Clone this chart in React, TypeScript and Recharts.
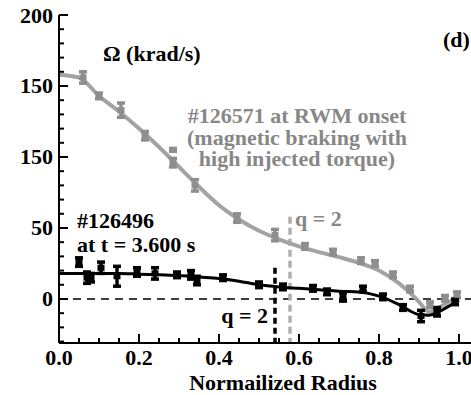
import { ComposedChart, Line, Scatter, ErrorBar, XAxis, YAxis, ReferenceLine } from 'recharts';

// smooth fit curves
const radiusFit = [0, 0.05, 0.1, 0.15, 0.2, 0.25, 0.3, 0.35, 0.4, 0.45, 0.5, 0.55, 0.6, 0.65, 0.7, 0.75, 0.8, 0.85, 0.875, 0.9, 0.925, 0.95, 0.975, 1.0];
const omegaFitRwm = [158, 156, 143, 132, 120, 107, 93, 79, 66, 56, 48, 42, 37, 33, 29.5, 25.5, 20, 11, 5, -2, -9, -6, -2, 1];
const omegaFit126496 = [18, 18, 18, 18, 17.5, 17, 16.5, 15.5, 14.5, 12.5, 10, 8.5, 7.5, 6.5, 5.5, 5, 2, -4, -8, -11, -11.5, -9, -5, -1];

// measured points (gray: #126571, black: #126496)
const rwmRadius = [0.06, 0.1, 0.155, 0.215, 0.285, 0.285, 0.34, 0.445, 0.54, 0.615, 0.685, 0.755, 0.79, 0.835, 0.8775, 0.9275, 0.965, 0.995];
const rwmOmega = [156, 143, 133, 115, 105, 96, 80, 57, 45, 37, 33, 27, 25, 17, 7, -4, 0.5, 3];
const rwmErr = [4, 2, 5, 3, 1, 3, 4, 3, 4, 2, 2, 2, 2, 2, 2, 2, 2, 2];

const shotRadius = [0.05, 0.07, 0.08, 0.105, 0.145, 0.195, 0.24, 0.295, 0.33, 0.345, 0.41, 0.5, 0.56, 0.635, 0.67, 0.71, 0.76, 0.81, 0.86, 0.905, 0.945, 0.99];
const shotOmega = [26, 15, 15, 22, 16, 19, 18, 17, 17, 13, 15, 10, 8.5, 7.5, 5, 1.5, 7, 1.5, -6, -12, -9, -2];
const shotErr = [3, 4, 3, 4, 7, 3, 4, 2, 3, 3, 2, 2, 2, 2, 2, 3, 2, 2, 2, 4, 3, 2];

// q = 2 surfaces
const qRadius = [0.54, 0.5775];
const qTop = [22, 58];

const xTicks = [0, 0.05, 0.1, 0.15, 0.2, 0.25, 0.3, 0.35, 0.4, 0.45, 0.5, 0.55, 0.6, 0.65, 0.7, 0.75, 0.8, 0.85, 0.9, 0.95, 1.0];
const xTickLabels = ['0.0', '0.2', '0.4', '0.6', '0.8', '1.0'];
const yTicks = [-30, -20, -10, 0, 10, 20, 30, 40, 50, 60, 70, 80, 90, 100, 110, 120, 130, 140, 150, 160, 170, 180, 190, 200];
const yTickLabels = ['0', '50', '150', '150', '200']; // as printed on the original

const fitRows = radiusFit.map((x, i) => ({ x, rwm: omegaFitRwm[i], shot: omegaFit126496[i] }));
const rwmRows = rwmRadius.map((x, i) => ({ x, y: rwmOmega[i], err: rwmErr[i] }));
const shotRows = shotRadius.map((x, i) => ({ x, y: shotOmega[i], err: shotErr[i] }));

const GRAY_LINE = '#a3a3a3';
const GRAY_PT = '#8e8e8e';
const GRAY_TXT = '#878787';
const font: React.CSSProperties = { fontFamily: "'Liberation Serif', 'Times New Roman', serif", fontWeight: 700, fontSize: 22 };

const isMajorX = (v: number) => Math.abs(v * 5 - Math.round(v * 5)) < 1e-6;
const isMajorY = (v: number) => v % 50 === 0;

function BottomTick(props: any) {
    const { x, y, payload } = props;
    const major = isMajorX(payload.value);
    return (
        <g>
            <line x1={x} x2={x} y1={y} y2={y - (major ? 9 : 5)} stroke="#000" strokeWidth={2} />
            {major && (
                <text x={x} y={y + 22} textAnchor="middle" fill="#000" style={font}>
                    {xTickLabels[Math.round(payload.value * 5)]}
                </text>
            )}
        </g>
    );
}

function TopTick(props: any) {
    const { x, y, payload } = props;
    const major = isMajorX(payload.value);
    return <line x1={x} x2={x} y1={y} y2={y + (major ? 9 : 5)} stroke="#000" strokeWidth={2} />;
}

function LeftTick(props: any) {
    const { x, y, payload } = props;
    const major = isMajorY(payload.value);
    return (
        <g>
            <line x1={x} x2={x + (major ? 9 : 5)} y1={y} y2={y} stroke="#000" strokeWidth={2} />
            {major && payload.value >= 0 && (
                <text x={x - 6} y={y + 7.5} textAnchor="end" fill="#000" style={font}>
                    {yTickLabels[payload.value / 50]}
                </text>
            )}
        </g>
    );
}

function RightTick(props: any) {
    const { x, y, payload } = props;
    const major = isMajorY(payload.value);
    return <line x1={x} x2={x - (major ? 9 : 5)} y1={y} y2={y} stroke="#000" strokeWidth={2} />;
}

const square = (color: string) => (p: any) => (
    <rect x={p.cx - 3.5} y={p.cy - 3} width={7} height={6} fill={color} />
);

export default function App() {
    return (
        <div style={{ position: 'absolute', left: 0, top: 0, width: 471, height: 395, overflow: 'hidden', background: '#fff' }}>
            <ComposedChart width={480} height={395} data={fitRows} margin={{ top: 15, right: 3, bottom: 22, left: 0 }}>
                <XAxis xAxisId="b" dataKey="x" type="number" domain={[0, 1.045]} allowDataOverflow ticks={xTicks} interval={0}
                    height={30} tickSize={0} tickMargin={0} tickLine={false} tick={BottomTick}
                    axisLine={{ stroke: '#000', strokeWidth: 2 }} />
                <XAxis xAxisId="t" orientation="top" dataKey="x" type="number" domain={[0, 1.045]} allowDataOverflow ticks={xTicks} interval={0}
                    height={0} tickSize={0} tickMargin={0} tickLine={false} tick={TopTick}
                    axisLine={{ stroke: '#000', strokeWidth: 2 }} />
                <YAxis yAxisId="l" type="number" domain={[-31, 200]} allowDataOverflow ticks={yTicks} interval={0}
                    width={59} tickSize={0} tickMargin={0} tickLine={false} tick={LeftTick}
                    axisLine={{ stroke: '#000', strokeWidth: 2 }} />
                <YAxis yAxisId="r" orientation="right" type="number" domain={[-31, 200]} allowDataOverflow ticks={yTicks} interval={0}
                    width={0} tickSize={0} tickMargin={0} tickLine={false} tick={RightTick}
                    axisLine={{ stroke: '#000', strokeWidth: 2 }} />

                <ReferenceLine xAxisId="b" yAxisId="l" y={0} stroke="#000" strokeWidth={1.5} strokeDasharray="8 6" />
                <ReferenceLine xAxisId="b" yAxisId="l" stroke="#000" strokeWidth={3.5} strokeDasharray="6 4"
                    segment={[{ x: qRadius[0], y: qTop[0] }, { x: qRadius[0], y: -31 }]} />
                <ReferenceLine xAxisId="b" yAxisId="l" stroke="#b0b0b0" strokeWidth={3.5} strokeDasharray="7 4"
                    segment={[{ x: qRadius[1], y: qTop[1] }, { x: qRadius[1], y: -31 }]} />

                <Line xAxisId="b" yAxisId="l" type="monotone" dataKey="rwm" stroke={GRAY_LINE} strokeWidth={4} dot={false} isAnimationActive={false} />
                <Scatter xAxisId="b" yAxisId="l" data={rwmRows} dataKey="y" shape={square(GRAY_PT)} isAnimationActive={false}>
                    <ErrorBar dataKey="err" direction="y" width={4} stroke={GRAY_PT} strokeWidth={3.5} isAnimationActive={false} />
                </Scatter>

                <Line xAxisId="b" yAxisId="l" type="monotone" dataKey="shot" stroke="#000" strokeWidth={3} dot={false} isAnimationActive={false} />
                <Scatter xAxisId="b" yAxisId="l" data={shotRows} dataKey="y" shape={square('#000')} isAnimationActive={false}>
                    <ErrorBar dataKey="err" direction="y" width={4} stroke="#000" strokeWidth={3.5} isAnimationActive={false} />
                </Scatter>
            </ComposedChart>

            <svg width={471} height={395} style={{ position: 'absolute', left: 0, top: 0, pointerEvents: 'none' }}>
                <text x={103} y={61} fill="#000" style={font}>Ω (krad/s)</text>
                <text x={443} y={47} fill="#000" style={font}>(d)</text>
                <text x={297} y={123} textAnchor="middle" fill={GRAY_TXT} style={font}>#126571 at RWM onset</text>
                <text x={297} y={145} textAnchor="middle" fill={GRAY_TXT} style={font}>(magnetic braking with</text>
                <text x={297} y={166} textAnchor="middle" fill={GRAY_TXT} style={font}>high injected torque)</text>
                <text x={77} y={228} fill="#000" style={font}>#126496</text>
                <text x={77} y={252} fill="#000" style={font}>at t = 3.600 s</text>
                <text x={295} y={226} fill={GRAY_TXT} style={font}>q = 2</text>
                <text x={268} y={323} textAnchor="end" fill="#000" style={font}>q = 2</text>
                <text x={283} y={390} textAnchor="middle" fill="#000" style={font}>Normailized Radius</text>
            </svg>
        </div>
    );
}
